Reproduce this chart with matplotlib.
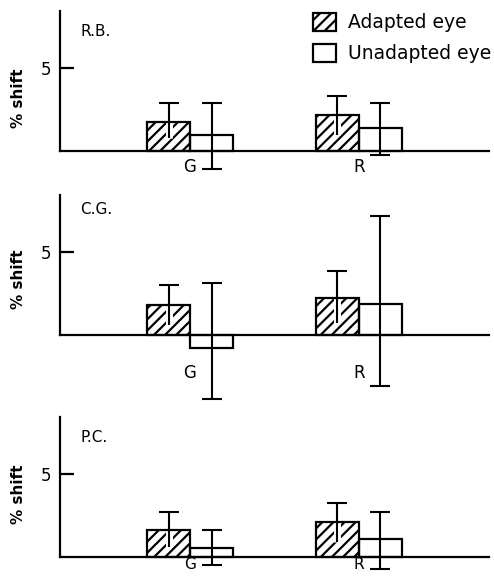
import matplotlib
matplotlib.use("Agg")
import matplotlib.pyplot as plt
import matplotlib.patheffects as pe
from matplotlib.patches import Patch
import numpy as np

# ---------------- data ----------------
subjects = ["R.B.", "C.G.", "P.C."]
conditions = ["G", "R"]
series_names = ["Adapted eye", "Unadapted eye"]

adapted_mean = [[1.74, 2.16], [1.78, 2.25], [1.60, 2.10]]
adapted_err_up = [[1.16, 1.13], [1.25, 1.60], [1.10, 1.15]]
adapted_err_low = [[0.96, 1.20], [1.16, 1.54], [1.00, 1.20]]

unadapted_mean = [[0.96, 1.38], [-0.80, 1.87], [0.55, 1.08]]
unadapted_err_up = [[1.91, 1.49], [3.90, 5.27], [1.05, 1.64]]
unadapted_err_low = [[2.04, 1.62], [3.03, 4.92], [1.05, 1.78]]

ytick_vals = [5]
ytick_labels = ["5"]

# ---------------- layout ----------------
plt.rcParams["font.family"] = ["DejaVu Sans"]
plt.rcParams["hatch.linewidth"] = 1.6
W, H = 494, 578
fig = plt.figure(figsize=(W / 100, H / 100), dpi=100)

baselines = [151, 335, 557]
ax_left, ax_w, ax_h = 60, 429, 140
label_pads = [5, 21, 0]
label_sizes = [12, 12, 11]
ylabel_y = [0.38, 0.40, 0.45]
bw = 0.254
x = np.arange(len(conditions))
HATCH = "///"

for i, subj in enumerate(subjects):
    b = baselines[i]
    ax = fig.add_axes([ax_left / W, (H - b) / H, ax_w / W, ax_h / H])
    ax.set_xlim(-0.77, 1.77)
    ax.set_ylim(0, 8.4)
    for s in ["top", "right"]:
        ax.spines[s].set_visible(False)
    for s in ["left", "bottom"]:
        ax.spines[s].set_linewidth(1.6)

    xa = x - bw / 2
    xu = x + bw / 2
    am = np.array(adapted_mean[i])
    um = np.array(unadapted_mean[i])

    # adapted bars (hatched)
    ax.bar(xa, am, width=bw, color="white", edgecolor="black", hatch=HATCH,
           linewidth=0, zorder=1, clip_on=False)
    # adapted error bars (cap only on top)
    eb = ax.errorbar(xa, am, yerr=[adapted_err_low[i], adapted_err_up[i]],
                     fmt="none", ecolor="black", elinewidth=1.5, capsize=7,
                     capthick=1.5, zorder=2, clip_on=False)
    eb.lines[2][0].set_path_effects([pe.withStroke(linewidth=5, foreground="white")])
    eb.lines[1][0].set_visible(False)
    ax.bar(xa, am, width=bw, fill=False, edgecolor="black", linewidth=1.6,
           zorder=3, clip_on=False)

    # unadapted bars (open)
    ax.bar(xu, um, width=bw, color="white", edgecolor="black", linewidth=1.6,
           zorder=1, clip_on=False)
    ax.errorbar(xu, um, yerr=[unadapted_err_low[i], unadapted_err_up[i]],
                fmt="none", ecolor="black", elinewidth=1.5, capsize=7,
                capthick=1.5, zorder=4, clip_on=False)

    ax.set_yticks(ytick_vals)
    ax.set_yticklabels(ytick_labels, fontsize=12)
    ax.tick_params(axis="y", direction="in", length=10, width=1.6, pad=6)
    ax.set_xticks(x)
    ax.set_xticklabels(conditions, fontsize=label_sizes[i])
    ax.tick_params(axis="x", length=0, pad=label_pads[i])

    ax.set_ylabel("% shift", fontsize=11, fontweight="bold")
    ax.yaxis.set_label_coords(-0.08, ylabel_y[i])

    ax.text(0.047, 0.85 if i != 1 else 0.9, subj, transform=ax.transAxes,
            fontsize=11, ha="left", va="center")

    if i == 0:
        handles = [Patch(facecolor="white", edgecolor="black", hatch=HATCH, linewidth=1.6),
                   Patch(facecolor="white", edgecolor="black", linewidth=1.6)]
        fig.legend(handles, series_names, loc="upper left",
                   bbox_to_anchor=(313 / W, 1 - 13 / H), frameon=False,
                   fontsize=13.5, borderpad=0, borderaxespad=0,
                   handlelength=1.25, handleheight=1.1, handletextpad=0.6,
                   labelspacing=0.6)

fig.savefig("out.png", dpi=100)
